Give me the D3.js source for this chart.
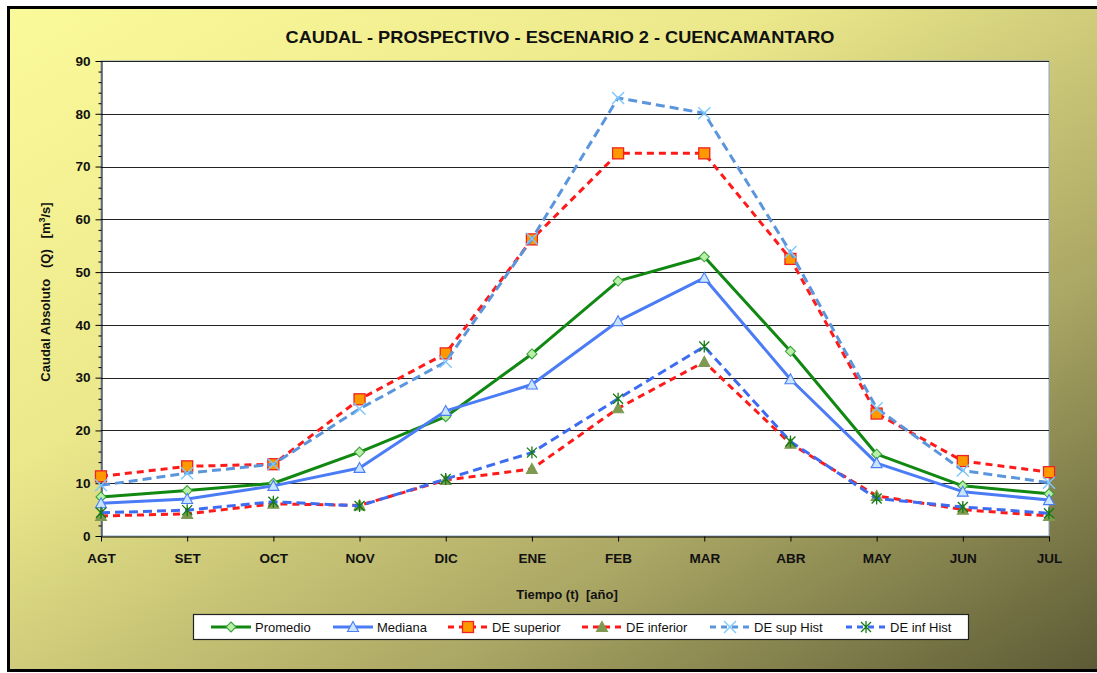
<!DOCTYPE html>
<html>
<head>
<meta charset="utf-8">
<script src="https://cdn.jsdelivr.net/npm/d3@7"></script>
<style>
  body { margin: 0; background: #fff; }
  svg { display: block; font-family: Arial, "Liberation Sans", sans-serif; }
</style>
</head>
<body>
<script>
// data
const months = ['AGT', 'SET', 'OCT', 'NOV', 'DIC', 'ENE', 'FEB', 'MAR', 'ABR', 'MAY', 'JUN', 'JUL'];
const promedio   = [7.4, 8.6, 10.0, 15.9, 22.6, 34.5, 48.3, 52.9, 35.0, 15.5, 9.5, 8.0];
const mediana    = [6.2, 7.0, 9.5, 12.9, 23.7, 28.7, 40.7, 48.9, 29.7, 13.8, 8.4, 6.8];
const deSuperior = [11.3, 13.2, 13.6, 25.9, 34.6, 56.2, 72.5, 72.5, 52.5, 23.2, 14.2, 12.1];
const deInferior = [3.8, 4.2, 6.1, 5.8, 10.6, 12.7, 24.2, 33.0, 17.5, 7.6, 5.0, 3.8];
const deSupHist  = [9.6, 11.9, 13.6, 24.1, 33.0, 56.3, 83.0, 80.1, 53.8, 24.2, 12.4, 10.1];
const deInfHist  = [4.4, 4.9, 6.5, 5.7, 10.8, 15.8, 26.0, 35.9, 17.9, 7.1, 5.5, 4.3];
const yTicks = [0, 10, 20, 30, 40, 50, 60, 70, 80, 90];

const W = 1097, H = 673;
const svg = d3.select('body').append('svg').attr('width', W).attr('height', H);

// background
const defs = svg.append('defs');
const grad = defs.append('linearGradient').attr('id', 'bg')
  .attr('x1', '0%').attr('y1', '0%').attr('x2', '100%').attr('y2', '100%');
grad.append('stop').attr('offset', '0%').attr('stop-color', '#fbfa9a');
grad.append('stop').attr('offset', '35%').attr('stop-color', '#ebe88b');
grad.append('stop').attr('offset', '70%').attr('stop-color', '#aaa664');
grad.append('stop').attr('offset', '100%').attr('stop-color', '#5a5934');

svg.append('rect').attr('x', 0).attr('y', 0).attr('width', W).attr('height', H).attr('fill', '#fff');
svg.append('rect').attr('x', 8.5).attr('y', 7.5).attr('width', 1100).attr('height', 663)
  .attr('fill', 'url(#bg)').attr('stroke', '#000').attr('stroke-width', 3);

const pLeft = 101, pRight = 1049, pTop = 61, pBottom = 536;

const x = d3.scalePoint().domain(months).range([pLeft, pRight]);
const y = d3.scaleLinear().domain([0, 90]).range([pBottom, pTop]);

// plot area
svg.append('rect').attr('x', pLeft).attr('y', pTop).attr('width', pRight - pLeft).attr('height', pBottom - pTop)
  .attr('fill', '#fff').attr('stroke', '#8aa2c8').attr('stroke-width', 1);

// grid
svg.append('g').selectAll('line').data(yTicks.filter(d => d > 0)).join('line')
  .attr('x1', pLeft).attr('x2', pRight)
  .attr('y1', d => Math.round(y(d)) + 0.5).attr('y2', d => Math.round(y(d)) + 0.5)
  .attr('stroke', '#222').attr('stroke-width', 1);

// y axis
const yAxis = svg.append('g').attr('transform', `translate(${pLeft + 0.5},0)`)
  .call(d3.axisLeft(y).tickValues(yTicks).tickSize(6).tickSizeOuter(0));
svg.append('g').attr('transform', `translate(${pLeft + 0.5},0)`)
  .call(d3.axisLeft(y).tickValues(d3.range(0, 91, 2).filter(d => d % 10)).tickSize(3).tickFormat(''))
  .select('.domain').remove();
yAxis.selectAll('text').attr('font-size', 13.5).attr('font-weight', 'bold').attr('fill', '#111').attr('dx', -2);

// x axis
const xAxis = svg.append('g').attr('transform', `translate(0,${pBottom + 0.5})`)
  .call(d3.axisBottom(x).tickSize(5).tickSizeOuter(0).tickPadding(12));
xAxis.selectAll('text').attr('font-size', 13.5).attr('font-weight', 'bold').attr('fill', '#111');
svg.selectAll('.domain').attr('stroke', '#000');
svg.selectAll('.tick line').attr('stroke', '#000');

// titles
svg.append('text').attr('x', 560).attr('y', 43).attr('text-anchor', 'middle')
  .attr('font-size', 17).attr('font-weight', 'bold').attr('fill', '#111')
  .attr('textLength', 549).attr('lengthAdjust', 'spacingAndGlyphs')
  .text('CAUDAL - PROSPECTIVO - ESCENARIO 2 - CUENCAMANTARO');
svg.append('text').attr('x', 567).attr('y', 599).attr('text-anchor', 'middle')
  .attr('font-size', 13).attr('font-weight', 'bold').attr('fill', '#111')
  .style('white-space', 'pre')
  .text('Tiempo (t)  [año]');
const yl = svg.append('text').attr('transform', 'translate(50,292) rotate(-90)').attr('text-anchor', 'middle')
  .attr('font-size', 13).attr('font-weight', 'bold').attr('fill', '#111')
  .style('white-space', 'pre');
yl.append('tspan').text('Caudal Absoluto   (Q)   [m');
yl.append('tspan').attr('font-size', 9).attr('dy', -5).text('3');
yl.append('tspan').attr('dy', 5).text('/s]');

// series
const series = [
  { name: 'Promedio', values: promedio, color: '#118811', dash: null, marker: 'diamond', mfill: '#b8f0a8', mstroke: '#3fa03f' },
  { name: 'Mediana', values: mediana, color: '#4b7cf5', dash: null, marker: 'triangle', mfill: '#c8e4ff', mstroke: '#4b7cf5' },
  { name: 'DE superior', values: deSuperior, color: '#ff1a1a', dash: '7,5', marker: 'square', mfill: '#ff9900', mstroke: '#ee2222' },
  { name: 'DE inferior', values: deInferior, color: '#ff1a1a', dash: '7,5', marker: 'triangle', mfill: '#7f9a50', mstroke: '#7f9a50' },
  { name: 'DE sup Hist', values: deSupHist, color: '#5b95dc', dash: '9,5', marker: 'x', mfill: 'none', mstroke: '#7cc8ff' },
  { name: 'DE inf Hist', values: deInfHist, color: '#3d6cf0', dash: '9,5', marker: 'star', mfill: 'none', mstroke: '#137a13' }
];

const line = d3.line().x((d, i) => x(months[i])).y(d => y(d));

function drawMarker(g, type, cx, cy, s) {
  if (type === 'square') {
    g.append('rect').attr('x', cx - 5.5).attr('y', cy - 5.5).attr('width', 11).attr('height', 11)
      .attr('fill', s.mfill).attr('stroke', s.mstroke).attr('stroke-width', 1.3);
  } else if (type === 'diamond') {
    g.append('path').attr('transform', `translate(${cx},${cy})`)
      .attr('d', 'M0,-5L5,0L0,5L-5,0Z')
      .attr('fill', s.mfill).attr('stroke', s.mstroke).attr('stroke-width', 1.1);
  } else if (type === 'triangle') {
    g.append('path').attr('transform', `translate(${cx},${cy})`)
      .attr('d', 'M0,-5.5L5.5,4.5L-5.5,4.5Z')
      .attr('fill', s.mfill).attr('stroke', s.mstroke).attr('stroke-width', 1.1);
  } else if (type === 'x') {
    g.append('path').attr('transform', `translate(${cx},${cy})`)
      .attr('d', 'M-6,-6L6,6M-6,6L6,-6')
      .attr('fill', 'none').attr('stroke', s.mstroke).attr('stroke-width', 1.4);
  } else {
    g.append('path').attr('transform', `translate(${cx},${cy})`)
      .attr('d', 'M-5,-5L5,5M-5,5L5,-5M0,-6L0,6')
      .attr('fill', 'none').attr('stroke', s.mstroke).attr('stroke-width', 1.3);
  }
}

series.forEach(s => {
  const g = svg.append('g');
  g.append('path').datum(s.values).attr('d', line).attr('fill', 'none')
    .attr('stroke', s.color).attr('stroke-width', 3)
    .attr('stroke-dasharray', s.dash).attr('stroke-linejoin', 'round');
  s.values.forEach((v, i) => drawMarker(g, s.marker, x(months[i]), y(v), s));
});

// legend
const lg = svg.append('g');
lg.append('rect').attr('x', 193.5).attr('y', 614.5).attr('width', 775).attr('height', 25)
  .attr('fill', '#fff').attr('stroke', '#222').attr('stroke-width', 1.2);
const markerX = [231, 353, 468, 602, 730, 866];
series.forEach((s, i) => {
  const cx = markerX[i];
  const g = lg.append('g');
  g.append('line').attr('x1', cx - 20).attr('x2', cx + 20).attr('y1', 627).attr('y2', 627)
    .attr('stroke', s.color).attr('stroke-width', 3).attr('stroke-dasharray', s.dash ? '6,5' : null);
  drawMarker(g, s.marker, cx, 627, s);
  g.append('text').attr('x', cx + 24).attr('y', 632).attr('font-size', 13).attr('fill', '#111')
    .text(s.name);
});
</script>
</body>
</html>
